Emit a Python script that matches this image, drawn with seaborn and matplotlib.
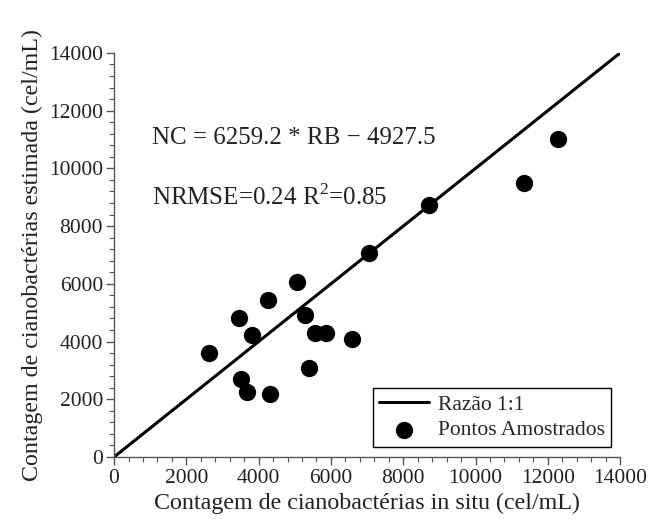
import matplotlib
matplotlib.use("Agg")
import matplotlib.pyplot as plt
import seaborn as sns
import pandas as pd
from matplotlib.ticker import MultipleLocator

# Data
in_situ = [8725, 7065, 5055, 4270, 3468, 5276, 3809, 5562, 5866, 6576,
           2638, 5386, 3514, 3671, 4317, 12277, 11336]
estimada = [8745, 7062, 6060, 5427, 4816, 4908, 4217, 4309, 4309, 4101,
            3607, 3066, 2719, 2258, 2166, 11016, 9481]
ratio_x = [0, 14000]
ratio_y = [0, 14000]
x_ticks = [0, 2000, 4000, 6000, 8000, 10000, 12000, 14000]
y_ticks = [0, 2000, 4000, 6000, 8000, 10000, 12000, 14000]

pts = pd.DataFrame({"x": in_situ, "y": estimada})
line = pd.DataFrame({"x": ratio_x, "y": ratio_y})

sns.set_style("ticks")
plt.rcParams['font.family'] = ['Liberation Serif', 'DejaVu Serif']
plt.rcParams['mathtext.fontset'] = 'custom'
plt.rcParams['mathtext.rm'] = 'Liberation Serif'

fig = plt.figure(figsize=(6.48, 5.19), dpi=100)
ax = fig.add_axes([0.176, 0.1195, 0.781, 0.7785])

sns.lineplot(data=line, x="x", y="y", ax=ax, color="black", linewidth=2.2,
             label="Razão 1:1")
sns.scatterplot(data=pts, x="x", y="y", ax=ax, color="black", s=155,
                edgecolor="black", linewidth=0, label="Pontos Amostrados")

ax.set_xlim(0, 14000)
ax.set_ylim(0, 14000)
ax.set_xticks(x_ticks)
ax.set_yticks(y_ticks)
ax.xaxis.set_minor_locator(MultipleLocator(400))
ax.yaxis.set_minor_locator(MultipleLocator(400))
ax.tick_params(axis='both', which='major', direction='out', length=6, width=1,
               color='#555555', labelsize=15.5, labelcolor='#222222', pad=2)
ax.tick_params(axis='x', which='major', pad=3)
ax.tick_params(axis='both', which='minor', direction='out', length=3.5, width=0.8,
               color='#555555')
for s in ['top', 'right']:
    ax.spines[s].set_visible(False)
for s in ['left', 'bottom']:
    ax.spines[s].set_color('#555555')
    ax.spines[s].set_linewidth(1)

ax.set_xlabel("Contagem de cianobactérias in situ (cel/mL)", fontsize=17.3,
              color='#222222', labelpad=3)
ax.set_ylabel("Contagem de cianobactérias estimada (cel/mL)", fontsize=17.3,
              color='#222222', labelpad=4)

ax.text(1040, 11060, "NC = 6259.2 * RB \u2212 4927.5", fontsize=18,
        va='center', ha='left', color='#222222')
ax.text(1040, 8990, "NRMSE=0.24 R$^2$=0.85", fontsize=18,
        va='center', ha='left', color='#222222')

leg = ax.legend(loc='lower right', fontsize=15.5, frameon=True, fancybox=False,
                edgecolor='black', framealpha=1, borderpad=0.3,
                handlelength=2.3, handletextpad=0.4, labelspacing=0.25,
                borderaxespad=0, bbox_to_anchor=(0.982, 0.025))
leg.get_frame().set_linewidth(1.0)

fig.savefig("out.png", dpi=100)
